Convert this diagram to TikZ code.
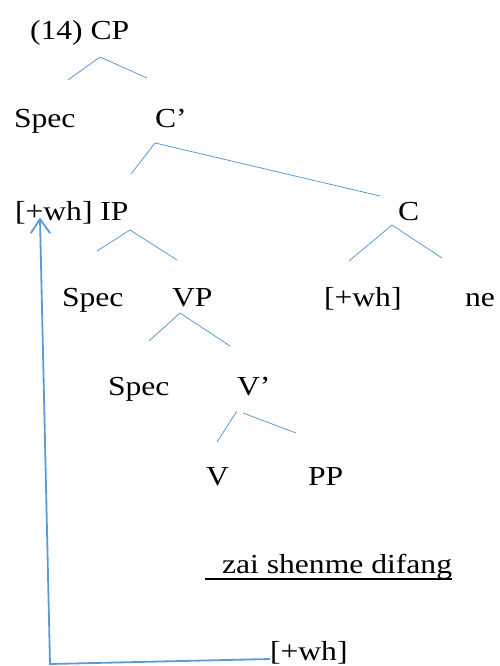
\documentclass[tikz,border=0pt]{standalone}
\usepackage{fontspec}
\setmainfont[FakeStretch=1.15]{Liberation Serif}
\usetikzlibrary{arrows.meta}
\definecolor{branch}{HTML}{5B9BD5}
\tikzset{
  lbl/.style={anchor=base west, inner sep=0pt, outer sep=0pt, font=\fontsize{27.5}{30}\selectfont},
  edge/.style={draw=branch, line width=0.8pt},
  move/.style={draw=branch, line width=1.8pt}
}
\begin{document}
\begin{tikzpicture}[x=1pt,y=-1pt]
\useasboundingbox (0,0) rectangle (499,666);
% labels of the tree
\node[lbl] (cp)    at (30,40)  {(14) CP};
\node[lbl] (spec1) at (14,128) {Spec};
\node[lbl] (cbar)  at (155,128) {C’};
\node[lbl] (ip)    at (15,220) {[+wh] IP};
\node[lbl] (c)     at (398,220) {C};
\node[lbl] (spec2) at (62,306) {Spec};
\node[lbl] (vp)    at (172,306) {VP};
\node[lbl] (wh1)   at (324,306) {[+wh]};
\node[lbl] (ne)    at (465,306) {ne};
\node[lbl] (spec3) at (108,395) {Spec};
\node[lbl] (vbar)  at (237,395) {V’};
\node[lbl] (v)     at (206,485) {V};
\node[lbl] (pp)    at (308,485) {PP};
\node[lbl] (zai)   at (222,573) {zai shenme difang};
\node[lbl] (wh2)   at (270,660) {[+wh]};
% underline of the PP content
\draw[line width=1.2pt] (205,579) -- (zai.base east |- 0,579);
% branches
\coordinate (cpT) at (100,57);
\draw[edge] (68,80) -- (cpT) -- (147,78);
\coordinate (cbT) at (155,143);
\draw[edge] (131,174) -- (cbT) -- (380,196);
\coordinate (ipT) at (130,230);
\draw[edge] (97,251) -- (ipT) -- (177,260);
\coordinate (cT) at (392,225);
\draw[edge] (349,261) -- (cT) -- (442,258);
\coordinate (vpT) at (180,313);
\draw[edge] (149,341) -- (vpT) -- (230,346);
\draw[edge] (217,442) -- (237,411);
\draw[edge] (243,413) -- (296,433);
% movement arrow
\coordinate (bend) at (50,664);
\coordinate (tip) at (40,219);
\draw[move] (wh2.west |- 0,659) -- (bend) -- (tip);
\draw[move, line cap=round, line join=round] (31,233) -- (tip) -- (50,233);
\end{tikzpicture}
\end{document}
